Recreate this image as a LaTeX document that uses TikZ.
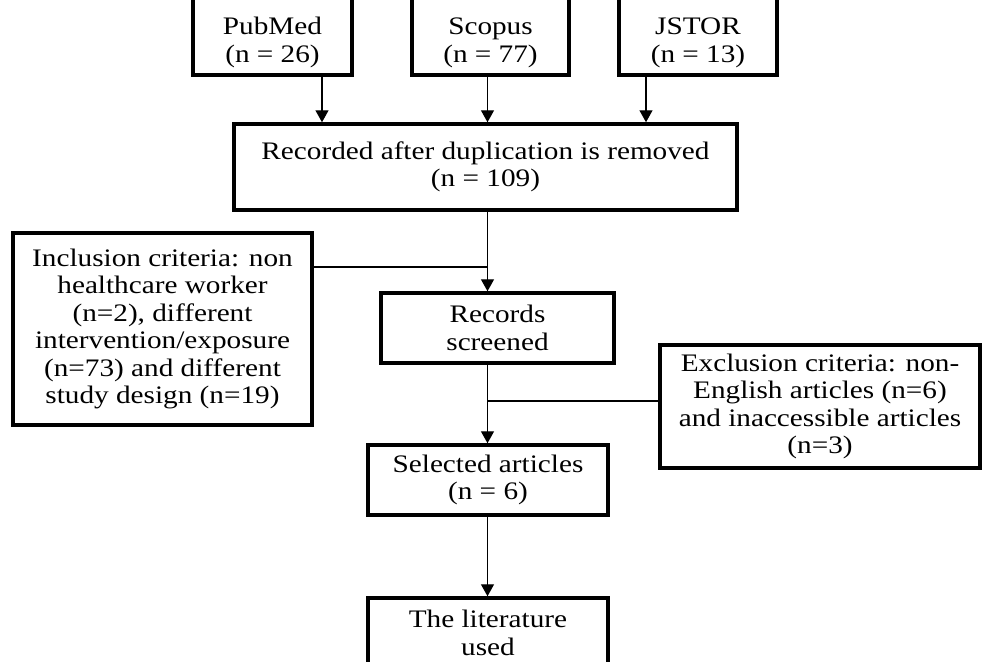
\documentclass[tikz,border=0pt]{standalone}
\usepackage{fontspec}
\setmainfont{Liberation Serif}[FakeStretch=1.16]
\usetikzlibrary{arrows.meta}

\begin{document}
\begin{tikzpicture}[x=1pt, y=-1pt,
    box/.style={draw, line width=3.5pt, inner sep=0pt, align=center, font=\fontsize{25.2}{27.5}\selectfont},
    srcbox/.style={box, minimum height=100pt},
    srclabel/.style={anchor=south, inner sep=0pt, yshift=9pt, align=center, font=\fontsize{25.2}{27.5}\selectfont},
    arr/.style={line width=1.4pt, -{Triangle[width=13pt,length=12pt]}},
    link/.style={line width=1.4pt}]
    \useasboundingbox (0,0) rectangle (984,661);
    \coordinate (spine) at (487.5,0);

    % databases (tops cut off)
    \node[srcbox, minimum width=159pt, label={[srclabel]south:{PubMed\\(n = 26)}}] (pubmed) at (272.5,25) {};
    \node[srcbox, minimum width=157pt, label={[srclabel]south:{Scopus\\(n = 77)}}] (scopus) at (490.5,25) {};
    \node[srcbox, minimum width=158pt, label={[srclabel]south:{JSTOR\\(n = 13)}}] (jstor) at (698,25) {};

    \node[box, minimum width=503pt, minimum height=86pt] (recorded) at (485.5,167) {Recorded after duplication is removed\\(n = 109)};
    \node[box, minimum width=299pt, minimum height=192pt] (inclusion) at (162.5,329) {Inclusion criteria: non\\healthcare worker\\(n=2), different\\intervention/exposure\\(n=73) and different\\study design (n=19)};
    \node[box, minimum width=233pt, minimum height=70pt] (records) at (497.5,328) {Records\\screened};
    \node[box, minimum width=320pt, minimum height=123pt] (exclusion) at (820,406.5) {Exclusion criteria: non-\\English articles (n=6)\\and inaccessible articles\\(n=3)};
    \node[box, minimum width=240pt, minimum height=70pt] (selected) at (488,480) {Selected articles\\(n = 6)};
    \node[box, minimum width=240pt, minimum height=70pt] (literature) at (488,633) {The literature\\used};

    \draw[arr] ([xshift=49.5pt]pubmed.south) -- ([xshift=49.5pt]pubmed.south |- recorded.north);
    \draw[arr] ([xshift=-3pt]scopus.south) -- ([xshift=-3pt]scopus.south |- recorded.north);
    \draw[arr] ([xshift=-52pt]jstor.south) -- ([xshift=-52pt]jstor.south |- recorded.north);
    \draw[arr] (recorded.south -| spine) -- (records.north -| spine);
    \draw[link] ([yshift=62pt]inclusion.east) coordinate (incl) -- (incl -| spine);
    \draw[arr] (records.south -| spine) -- (selected.north -| spine);
    \draw[link] ([yshift=5.5pt]exclusion.west) coordinate (excl) -- (excl -| spine);
    \draw[arr] (selected.south -| spine) -- (literature.north -| spine);
\end{tikzpicture}
\end{document}
